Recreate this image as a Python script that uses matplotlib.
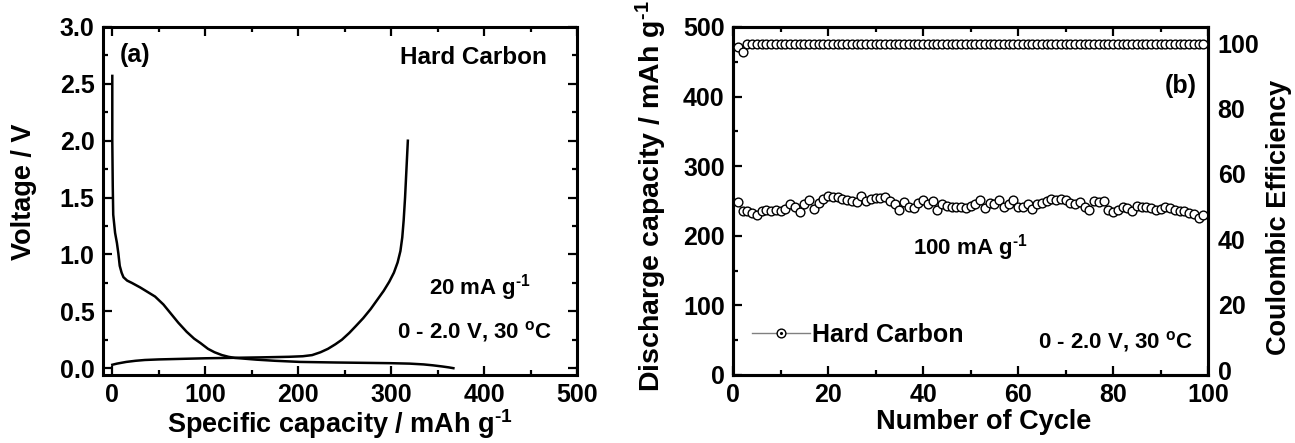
import numpy as np
import matplotlib
matplotlib.use("Agg")
import matplotlib.pyplot as plt
from matplotlib.ticker import MultipleLocator
from matplotlib.lines import Line2D
from matplotlib.legend_handler import HandlerTuple

plt.rcParams['font.family'] = ['Liberation Sans', 'DejaVu Sans']
plt.rcParams['font.weight'] = 'bold'
plt.rcParams['mathtext.fontset'] = 'custom'
plt.rcParams['mathtext.rm'] = 'Liberation Sans:bold'
plt.rcParams['mathtext.it'] = 'Liberation Sans:bold'
plt.rcParams['mathtext.bf'] = 'Liberation Sans:bold'
plt.rcParams['mathtext.default'] = 'regular'

# ---------------- data: panel (a) voltage profile ----------------
discharge_capacity = [0, 0, 0.5, 1, 2, 3, 5, 6.5, 8, 10, 12, 16, 21, 30, 38, 46, 55, 63, 71,
                      80, 88, 95, 103, 110, 118, 125, 132, 140, 155, 175, 202, 240, 270,
                      299, 320, 335, 345, 355, 362, 367]
discharge_voltage = [2.57, 2.0, 1.6, 1.35, 1.27, 1.19, 1.1, 1.01, 0.9, 0.84, 0.80, 0.77, 0.75,
                     0.71, 0.67, 0.63, 0.56, 0.48, 0.40, 0.32, 0.26, 0.22, 0.17, 0.14, 0.115,
                     0.10, 0.09, 0.085, 0.075, 0.065, 0.055, 0.05, 0.047, 0.044, 0.04, 0.033,
                     0.025, 0.015, 0.007, 0.0]
charge_capacity = [0, 5, 15, 25, 35, 50, 75, 100, 130, 160, 190, 205, 215, 224, 232, 240,
                   247, 255, 262, 270, 278, 285, 292, 298, 303, 307, 310, 312, 313.5, 315,
                   316.5, 318]
charge_voltage = [0.03, 0.04, 0.055, 0.065, 0.072, 0.077, 0.082, 0.087, 0.091, 0.095, 0.10,
                  0.105, 0.115, 0.14, 0.17, 0.21, 0.25, 0.31, 0.37, 0.44, 0.52, 0.60, 0.68,
                  0.76, 0.84, 0.93, 1.03, 1.15, 1.3, 1.5, 1.75, 2.0]

# ---------------- data: panel (b) cycling ----------------
cycle_number = list(range(1, 100))
discharge_cap = [248, 235, 236, 233, 230, 236, 237, 236, 237, 235,
                 238, 246, 241, 234, 246, 252, 238, 247, 253, 257,
                 256, 256, 253, 252, 250, 248, 257, 250, 253, 254,
                 255, 256, 250, 245, 237, 248, 241, 240, 247, 251,
                 246, 250, 237, 246, 243, 242, 242, 241, 240, 243,
                 245, 252, 240, 247, 245, 251, 241, 246, 252, 241,
                 242, 246, 238, 245, 247, 250, 253, 252, 253, 251,
                 247, 245, 248, 242, 237, 250, 248, 250, 237, 234,
                 237, 242, 240, 235, 243, 242, 241, 240, 237, 238,
                 242, 240, 237, 236, 235, 233, 232, 225, 230]
coulombic_eff = [98.8, 97.2, 99.7, 99.7, 99.7, 99.7, 99.7, 99.7, 99.7, 99.7,
                 99.7, 99.7, 99.7, 99.7, 99.7, 99.7, 99.7, 99.7, 99.7, 99.7,
                 99.7, 99.7, 99.7, 99.7, 99.7, 99.7, 99.7, 99.7, 99.7, 99.7,
                 99.7, 99.7, 99.7, 99.7, 99.7, 99.7, 99.7, 99.7, 99.7, 99.7,
                 99.7, 99.7, 99.7, 99.7, 99.7, 99.7, 99.7, 99.7, 99.7, 99.7,
                 99.7, 99.7, 99.7, 99.7, 99.7, 99.7, 99.7, 99.7, 99.7, 99.7,
                 99.7, 99.7, 99.7, 99.7, 99.7, 99.7, 99.7, 99.7, 99.7, 99.7,
                 99.7, 99.7, 99.7, 99.7, 99.7, 99.7, 99.7, 99.7, 99.7, 99.7,
                 99.7, 99.7, 99.7, 99.7, 99.7, 99.7, 99.7, 99.7, 99.7, 99.7,
                 99.7, 99.7, 99.7, 99.7, 99.7, 99.7, 99.7, 99.7, 99.7]

W, H = 1295, 443
fig = plt.figure(figsize=(W / 100, H / 100), dpi=100)


def px_axes(l, r, t, b):
    return [l / W, 1 - b / H, (r - l) / W, (b - t) / H]


TICK_FS = 18
LABEL_FS = 19.5
SPINE_LW = 2.2
INV = r'$^{\text{-1}}$'


def style_axes(ax):
    for s in ax.spines.values():
        s.set_linewidth(SPINE_LW)
    ax.tick_params(which='both', direction='in', top=True, right=True,
                   width=1.6, labelsize=TICK_FS)
    ax.tick_params(which='major', length=6.5, pad=6)
    ax.tick_params(which='minor', length=3.5)
    for lab in ax.get_xticklabels() + ax.get_yticklabels():
        lab.set_fontweight('bold')


# ---------------- panel (a) ----------------
ax1 = fig.add_axes(px_axes(103, 577, 27, 375))
ax1.plot(discharge_capacity, discharge_voltage, color='black', lw=1.8)
ax1.plot(charge_capacity, charge_voltage, color='black', lw=1.8)
ax1.set_xlim(-10, 500)
ax1.set_ylim(-0.06, 3.0)
ax1.xaxis.set_major_locator(MultipleLocator(100))
ax1.xaxis.set_minor_locator(MultipleLocator(50))
ax1.yaxis.set_major_locator(MultipleLocator(0.5))
ax1.yaxis.set_minor_locator(MultipleLocator(0.25))
ax1.yaxis.set_major_formatter(matplotlib.ticker.FormatStrFormatter('%.1f'))
style_axes(ax1)

fig.text(135 / W, 1 - 55 / H, '(a)', fontsize=18, fontweight='bold',
         ha='center', va='center')
fig.text(547 / W, 1 - 58 / H, 'Hard Carbon', fontsize=17.5, fontweight='bold',
         ha='right', va='center')
fig.text(480 / W, 1 - 288 / H, '20 mA g' + INV, fontsize=16, fontweight='bold',
         ha='center', va='center')
fig.text(475 / W, 1 - 331 / H, r'0 - 2.0 V, 30 $^{o}$C', fontsize=16, fontweight='bold',
         ha='center', va='center')
fig.text(24 / W, 1 - 192 / H, 'Voltage / V', rotation=90, fontsize=LABEL_FS,
         fontweight='bold', ha='center', va='center')
fig.text(340 / W, 1 - 424 / H, 'Specific capacity / mAh g' + INV, fontsize=LABEL_FS,
         fontweight='bold', ha='center', va='center')

# ---------------- panel (b) ----------------
ax2 = fig.add_axes(px_axes(733, 1208, 27, 375))
ax2.plot(cycle_number, discharge_cap, color='#808080', lw=0.8, marker='o', ms=6.3,
         mfc='white', mec='black', mew=1.0, zorder=3)
ax2.set_xlim(0, 100)
ax2.set_ylim(0, 500)
ax2.xaxis.set_major_locator(MultipleLocator(20))
ax2.xaxis.set_minor_locator(MultipleLocator(10))
ax2.yaxis.set_major_locator(MultipleLocator(100))
ax2.yaxis.set_minor_locator(MultipleLocator(50))
style_axes(ax2)

ax3 = ax2.twinx()
ax3.plot(cycle_number, coulombic_eff, color='#808080', lw=0.8, marker='o', ms=6.3,
         mfc='white', mec='black', mew=1.0, zorder=3)
ax3.set_ylim(-1.5, 104.9)
ax3.set_yticks([0, 20, 40, 60, 80, 100])
ax3.tick_params(axis='y', length=0, pad=7, labelsize=TICK_FS)
for lab in ax3.get_yticklabels():
    lab.set_fontweight('bold')
for s in ax3.spines.values():
    s.set_linewidth(SPINE_LW)

h_line = Line2D([], [], color='#808080', lw=1.0, marker='o', ms=6.3, mfc='white',
                mec='black', mew=1.0)
h_dot = Line2D([], [], color='none', marker='.', ms=2.5, mfc='black', mec='black')
leg = ax2.legend([(h_line, h_dot)], ['Hard Carbon'],
                 handler_map={tuple: HandlerTuple(ndivide=1, pad=0)},
                 loc='center left', bbox_to_anchor=((752 - 733) / 475, (375 - 335) / 348),
                 frameon=False, fontsize=18, handlelength=2.3, handletextpad=0.1,
                 borderaxespad=0, borderpad=0)
for t in leg.get_texts():
    t.set_fontweight('bold')

fig.text(1181 / W, 1 - 86 / H, '(b)', fontsize=18, fontweight='bold',
         ha='center', va='center')
fig.text(970 / W, 1 - 248 / H, '100 mA g' + INV, fontsize=16, fontweight='bold',
         ha='center', va='center')
fig.text(1116 / W, 1 - 341 / H, r'0 - 2.0 V, 30 $^{o}$C', fontsize=16, fontweight='bold',
         ha='center', va='center')
fig.text(651 / W, 1 - 392 / H, 'Discharge capacity / mAh g' + INV, rotation=90,
         fontsize=20.5, fontweight='bold', ha='center', va='bottom')
fig.text(1279 / W, 1 - 217 / H, 'Coulombic Efficiency', rotation=90, fontsize=LABEL_FS,
         fontweight='bold', ha='center', va='center')
fig.text(984 / W, 1 - 422 / H, 'Number of Cycle', fontsize=LABEL_FS, fontweight='bold',
         ha='center', va='center')

fig.savefig('out.png', dpi=100)
